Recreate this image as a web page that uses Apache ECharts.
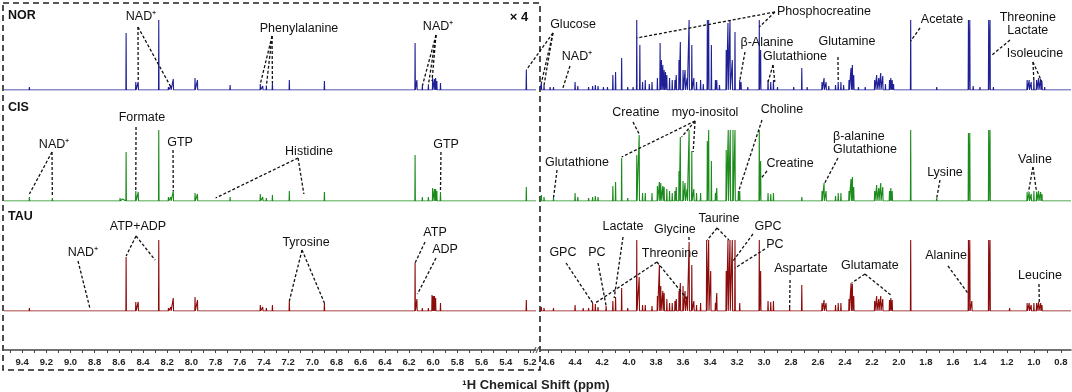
<!DOCTYPE html>
<html>
<head>
<meta charset="utf-8">
<title>1H NMR spectra NOR / CIS / TAU</title>
<script src="https://cdn.jsdelivr.net/npm/echarts@6.0.0/dist/echarts.min.js"></script>
<style>
  html, body { margin: 0; padding: 0; background: #fff; }
  #chart { width: 1072px; height: 392px; }
</style>
</head>
<body>
<div id="chart"></div>
<script>
const FONT = 'Liberation Sans, Arial, sans-serif';

// groups, top to bottom
const groups = ['NOR', 'CIS', 'TAU'];
const colors = ['#1f1f96', '#1b8b1b', '#8c0b0b'];

// tick labels of the two axis pieces (ppm)
const leftTicks = [9.4, 9.2, 9.0, 8.8, 8.6, 8.4, 8.2, 8.0, 7.8, 7.6, 7.4, 7.2, 7.0, 6.8, 6.6, 6.4, 6.2, 6.0, 5.8, 5.6, 5.4, 5.2];
const rightTicks = [4.6, 4.4, 4.2, 4.0, 3.8, 3.6, 3.4, 3.2, 3.0, 2.8, 2.6, 2.4, 2.2, 2.0, 1.8, 1.6, 1.4, 1.2, 1.0, 0.8];

// peaks as [ppm, height] (left part already shown x4)
const norPeaks = [
  [9.34, 3], [9.15, 2], [8.84, 1], [8.59, 1], [8.54, 57], [8.46, 8], [8.44, 8], [8.27, 70],
  [8.19, 3], [8.17, 4], [8.15, 11], [7.97, 12], [7.95, 10], [7.80, 2], [7.68, 5],
  [7.43, 6], [7.41, 4], [7.38, 4], [7.33, 7], [7.19, 10], [7.07, 2], [6.90, 9],
  [6.15, 47], [6.135, 10], [6.09, 4], [6.04, 5], [6.005, 12], [5.99, 11], [5.98, 12], [5.97, 9], [5.94, 7],
  [5.59, 1], [5.23, 20],
  [4.65, 7], [4.63, 5], [4.585, 3], [4.56, 3], [4.49, 2], [4.47, 2], [4.40, 8], [4.38, 4],
  [4.30, 3], [4.27, 4], [4.25, 5], [4.23, 4], [4.19, 3], [4.16, 3], [4.12, 15], [4.10, 18],
  [4.055, 32], [4.01, 3], [3.97, 3], [3.943, 70], [3.92, 45], [3.90, 8], [3.88, 10], [3.85, 6],
  [3.83, 8], [3.79, 12], [3.77, 47], [3.76, 30], [3.75, 25], [3.74, 20], [3.73, 18], [3.72, 15],
  [3.70, 12], [3.68, 10], [3.66, 10], [3.65, 15], [3.63, 30], [3.62, 48], [3.60, 20], [3.585, 20],
  [3.57, 12], [3.555, 70], [3.535, 45], [3.52, 12], [3.50, 8], [3.47, 10], [3.45, 6], [3.42, 70],
  [3.41, 70], [3.39, 45], [3.36, 10], [3.35, 10], [3.33, 5], [3.28, 40], [3.267, 67], [3.252, 70],
  [3.235, 30], [3.215, 58], [3.18, 10], [3.17, 8], [3.12, 3], [3.035, 70], [3.025, 40], [2.97, 10],
  [2.95, 8], [2.93, 10], [2.90, 3], [2.82, 2], [2.78, 3], [2.72, 22], [2.68, 3], [2.57, 8],
  [2.555, 12], [2.54, 8], [2.52, 4], [2.47, 5], [2.45, 8], [2.43, 8], [2.41, 5], [2.37, 10],
  [2.355, 22], [2.345, 25], [2.335, 15], [2.30, 3], [2.25, 3], [2.18, 10], [2.165, 15], [2.15, 12],
  [2.135, 17], [2.12, 14], [2.10, 6], [2.07, 10], [2.06, 12], [2.05, 10], [2.04, 6], [2.00, 2],
  [1.913, 70], [1.75, 2], [1.72, 3], [1.70, 2], [1.485, 70], [1.475, 70], [1.45, 4], [1.40, 3],
  [1.335, 70], [1.325, 70], [1.30, 3], [1.25, 2], [1.18, 2], [1.05, 10], [1.035, 10], [1.02, 8],
  [1.00, 10], [0.98, 10], [0.965, 12], [0.95, 11], [0.94, 8], [0.92, 3]
];
const cisPeaks = [
  [9.34, 4], [9.15, 3], [8.84, 1], [8.59, 3], [8.57, 2], [8.54, 49], [8.46, 10], [8.44, 9], [8.27, 71],
  [8.19, 4], [8.17, 4], [8.15, 10], [7.97, 8], [7.95, 7], [7.80, 2], [7.68, 4], [7.43, 7], [7.41, 4],
  [7.38, 3], [7.33, 6], [7.19, 10], [7.07, 2], [6.90, 9], [6.15, 46], [6.09, 4], [6.04, 4],
  [6.005, 13], [5.99, 12], [5.98, 12], [5.97, 10], [5.94, 9], [5.23, 14],
  [4.65, 6], [4.63, 4], [4.56, 3], [4.54, 2], [4.47, 2], [4.40, 8], [4.38, 4], [4.30, 3], [4.27, 4],
  [4.25, 5], [4.23, 4], [4.12, 15], [4.10, 19], [4.055, 43], [4.01, 3], [3.943, 46], [3.925, 66],
  [3.90, 8], [3.88, 8], [3.83, 8], [3.79, 15], [3.775, 19], [3.765, 18], [3.75, 15], [3.74, 14],
  [3.72, 12], [3.70, 10], [3.68, 8], [3.66, 10], [3.65, 14], [3.63, 30], [3.62, 64], [3.60, 20],
  [3.585, 18], [3.57, 12], [3.555, 71], [3.535, 50], [3.52, 12], [3.50, 8], [3.47, 8], [3.42, 60],
  [3.41, 71], [3.39, 40], [3.36, 8], [3.35, 13], [3.28, 51], [3.265, 71], [3.25, 71], [3.23, 71],
  [3.215, 71], [3.19, 9], [3.18, 10], [3.035, 71], [3.025, 40], [2.97, 8], [2.95, 7], [2.93, 8],
  [2.72, 4], [2.57, 10], [2.555, 18], [2.54, 10], [2.47, 5], [2.45, 8], [2.43, 8], [2.37, 10],
  [2.355, 22], [2.345, 24], [2.335, 14], [2.18, 10], [2.165, 16], [2.15, 13], [2.135, 18], [2.12, 14],
  [2.07, 10], [2.06, 13], [2.05, 10], [1.913, 71], [1.72, 3], [1.485, 68], [1.475, 68],
  [1.335, 71], [1.325, 71], [1.05, 9], [1.035, 9], [1.02, 7], [1.00, 10], [0.98, 9], [0.965, 10],
  [0.95, 9], [0.94, 7]
];
const tauPeaks = [
  [9.34, 3], [9.15, 2], [8.84, 2], [8.54, 54], [8.46, 9], [8.44, 9], [8.27, 71], [8.19, 3], [8.17, 4],
  [8.15, 13], [7.97, 14], [7.95, 11], [7.80, 2], [7.68, 2], [7.43, 6], [7.41, 4], [7.38, 3], [7.33, 6],
  [7.19, 10], [7.07, 2], [6.90, 8], [6.15, 48], [6.135, 12], [6.09, 3], [6.04, 3], [6.01, 16],
  [6.00, 15], [5.99, 15], [5.98, 13], [5.94, 8], [5.23, 11],
  [4.65, 4], [4.63, 3], [4.56, 3], [4.47, 2], [4.40, 6], [4.34, 3], [4.30, 3], [4.27, 8], [4.25, 7],
  [4.23, 4], [4.17, 5], [4.12, 10], [4.10, 14], [4.055, 23], [4.01, 3], [3.943, 71], [3.925, 34],
  [3.90, 6], [3.88, 6], [3.83, 5], [3.79, 15], [3.775, 46], [3.765, 25], [3.75, 20], [3.74, 18],
  [3.72, 12], [3.70, 8], [3.68, 8], [3.66, 10], [3.65, 12], [3.63, 20], [3.62, 28], [3.60, 25],
  [3.585, 20], [3.57, 15], [3.555, 69], [3.535, 46], [3.52, 10], [3.50, 6], [3.47, 8], [3.425, 71],
  [3.41, 71], [3.395, 40], [3.36, 8], [3.35, 18], [3.28, 40], [3.267, 71], [3.252, 71], [3.235, 71],
  [3.215, 71], [3.18, 8], [3.035, 71], [3.025, 40], [2.97, 10], [2.95, 9], [2.93, 10], [2.81, 3],
  [2.72, 26], [2.57, 8], [2.555, 11], [2.54, 8], [2.47, 6], [2.45, 8], [2.43, 8], [2.37, 12],
  [2.355, 28], [2.345, 27], [2.335, 15], [2.18, 10], [2.165, 15], [2.15, 12], [2.135, 15], [2.12, 12],
  [2.07, 11], [2.06, 13], [2.05, 11], [1.913, 71], [1.72, 1], [1.485, 71], [1.475, 71], [1.46, 10],
  [1.335, 71], [1.325, 71], [1.18, 3], [1.05, 8], [1.035, 8], [1.02, 6], [1.00, 8], [0.98, 8],
  [0.965, 9], [0.95, 8], [0.94, 6]
];
const spectra = [norPeaks, cisPeaks, tauPeaks];

// labels: row, label centre [ppm, height], leader start, leader ends
const annotations = [
  { text: 'NAD⁺', row: 0, at: [8.417, 73], from: [8.442, 63], to: [[8.44, 9], [8.17, 3]] },
  { text: 'Phenylalanine', row: 0, at: [7.11, 61], from: [7.333, 54], to: [[7.43, 6], [7.38, 4], [7.33, 7]] },
  { text: 'NAD⁺', row: 0, at: [5.96, 63], from: [5.977, 55], to: [[6.09, 4], [6.04, 5], [6.01, 9]] },
  { text: 'Glucose', row: 0, at: [4.415, 65], from: [4.564, 57], to: [[5.23, 20], [4.65, 7], [4.63, 5]] },
  { text: 'NAD⁺', row: 0, at: [4.386, 33], from: [4.438, 24], to: [[4.49, 2]] },
  { text: 'Phosphocreatine', row: 0, at: [2.556, 78], from: [2.919, 78], to: [[3.035, 63], [3.943, 52]] },
  { text: 'β-Alanine', row: 0, at: [2.978, 47], from: [3.141, 38], to: [[3.18, 9]] },
  { text: 'Glutathione', row: 0, at: [2.77, 33], from: [2.933, 25], to: [[2.97, 8], [2.92, 8]] },
  { text: 'Glutamine', row: 0, at: [2.385, 48], from: [2.452, 33], to: [[2.45, 8]] },
  { text: 'Acetate', row: 0, at: [1.681, 70], from: [1.844, 62], to: [[1.913, 49]] },
  { text: 'Threonine\nLactate', row: 0, at: [1.045, 66], from: [1.177, 50], to: [[1.31, 35]] },
  { text: 'Isoleucine', row: 0, at: [0.992, 36], from: [1.007, 28], to: [[1.0, 9], [0.94, 8]] },

  { text: 'Formate', row: 1, at: [8.409, 83], from: [8.458, 74], to: [[8.46, 10]] },
  { text: 'NAD⁺', row: 1, at: [9.136, 56], from: [9.153, 49], to: [[9.34, 7], [9.15, 4]] },
  { text: 'GTP', row: 1, at: [8.094, 58], from: [8.152, 51], to: [[8.15, 10]] },
  { text: 'Histidine', row: 1, at: [7.027, 49], from: [7.118, 43], to: [[7.80, 3], [7.07, 7]] },
  { text: 'GTP', row: 1, at: [5.894, 56], from: [5.936, 49], to: [[5.94, 9]] },
  { text: 'Glutathione', row: 1, at: [4.386, 38], from: [4.534, 31], to: [[4.56, 3]] },
  { text: 'Creatine', row: 1, at: [3.949, 88], from: [3.971, 79], to: [[3.925, 67]] },
  { text: 'myo-inositol', row: 1, at: [3.437, 88], from: [3.511, 80], to: [[4.055, 44], [3.61, 64], [3.525, 49]] },
  { text: 'Choline', row: 1, at: [2.867, 91], from: [3.015, 81], to: [[3.19, 9]] },
  { text: 'Creatine', row: 1, at: [2.807, 37], from: [2.978, 30], to: [[3.02, 23]] },
  { text: 'β-alanine\nGlutathione', row: 1, at: [2.489, 58], align: 'left', from: [2.452, 43], to: [[2.55, 18]] },
  { text: 'Lysine', row: 1, at: [1.659, 28], from: [1.696, 21], to: [[1.72, 3]] },
  { text: 'Valine', row: 1, at: [0.992, 41], from: [1.007, 34], to: [[1.04, 9], [0.98, 9]] },

  { text: 'ATP+ADP', row: 2, at: [8.442, 84], from: [8.458, 75], to: [[8.54, 55], [8.30, 51]] },
  { text: 'NAD⁺', row: 2, at: [8.897, 58], from: [8.938, 50], to: [[8.84, 3]] },
  { text: 'Tyrosine', row: 2, at: [7.052, 68], from: [7.085, 61], to: [[7.19, 10], [6.90, 8]] },
  { text: 'ATP', row: 2, at: [5.985, 78], from: [6.068, 69], to: [[6.15, 48]] },
  { text: 'ADP', row: 2, at: [5.902, 61], from: [5.977, 53], to: [[6.13, 17]] },
  { text: 'GPC', row: 2, at: [4.49, 58], from: [4.467, 48], to: [[4.27, 8]] },
  { text: 'PC', row: 2, at: [4.238, 58], from: [4.23, 48], to: [[4.17, 5]] },
  { text: 'Lactate', row: 2, at: [4.045, 84], from: [4.045, 74], to: [[4.11, 13]] },
  { text: 'Glycine', row: 2, at: [3.66, 81], from: [3.556, 74], to: [[3.555, 69]] },
  { text: 'Threonine', row: 2, at: [3.697, 57], from: [3.793, 49], to: [[4.25, 8], [3.57, 12]] },
  { text: 'Taurine', row: 2, at: [3.334, 92], from: [3.348, 83], to: [[3.42, 71], [3.26, 71]] },
  { text: 'GPC', row: 2, at: [2.97, 84], from: [3.082, 77], to: [[3.235, 49]] },
  { text: 'PC', row: 2, at: [2.919, 66], from: [2.993, 62], to: [[3.215, 43]] },
  { text: 'Aspartate', row: 2, at: [2.726, 42], from: [2.807, 31], to: [[2.81, 3]] },
  { text: 'Glutamate', row: 2, at: [2.215, 45], from: [2.252, 37], to: [[2.35, 28], [2.06, 16]] },
  { text: 'Alanine', row: 2, at: [1.651, 55], from: [1.637, 45], to: [[1.49, 18]] },
  { text: 'Leucine', row: 2, at: [0.955, 35], from: [0.962, 27], to: [[0.96, 8]] }
];

// group names and the magnification mark, [ppm, height] in their row
const rowLabels = [
  { text: 'NOR', row: 0, at: [9.517, 74] },
  { text: 'CIS', row: 1, at: [9.517, 93] },
  { text: 'TAU', row: 2, at: [9.517, 94] }
];
const scaleMark = { text: '× 4', row: 0, at: [5.29, 73] };

// layout
const baselines = [90, 201, 311];
const spanH = 71;
const sides = [
  { left: 4, width: 532, min: 5.15, max: 9.55, ticks: leftTicks },
  { left: 540, width: 531, min: 0.725, max: 4.66, ticks: rightTicks }
];
const minorTicks = (lo, hi) => {
  const out = [];
  for (let v = Math.round(hi * 10); v >= Math.round(lo * 10); v--) out.push(v / 10);
  return out;
};

// each peak drawn as a narrow stick on a flat baseline
function buildTrace(peaks, lo, hi) {
  const hw = 0.0022;
  const pts = [[hi, 0]];
  peaks.filter(p => p[0] > lo && p[0] < hi)
    .sort((a, b) => b[0] - a[0])
    .forEach(([x, h]) => { pts.push([x + hw, 0], [x, h], [x - hw, 0]); });
  pts.push([lo, 0]);
  return pts;
}

const chart = echarts.init(document.getElementById('chart'));
const grids = [], xAxes = [], yAxes = [], series = [];
groups.forEach((name, r) => {
  sides.forEach((s) => {
    const i = grids.length;
    const isBottom = r === groups.length - 1;
    grids.push({ left: s.left, width: s.width, top: baselines[r] - spanH, height: spanH });
    xAxes.push({
      gridIndex: i, type: 'value', inverse: true, min: s.min, max: s.max,
      show: isBottom, offset: 39,
      axisLine: { show: true, onZero: false, lineStyle: { color: '#444', width: 1.5 } },
      axisTick: { show: true, customValues: minorTicks(s.min + 0.05, s.max - 0.05), length: 3,
        lineStyle: { color: '#444', width: 1 } },
      axisLabel: { customValues: s.ticks, formatter: v => v.toFixed(1), fontSize: 9.5,
        fontWeight: 'bold', color: '#222', margin: 7, fontFamily: FONT },
      splitLine: { show: false }
    });
    yAxes.push({ gridIndex: i, type: 'value', min: 0, max: spanH, show: false });
    series.push({
      name: name, type: 'line', xAxisIndex: i, yAxisIndex: i,
      data: buildTrace(spectra[r], s.min, s.max),
      symbol: 'none', silent: true, clip: true,
      lineStyle: { color: colors[r], width: 1.1 }
    });
  });
});

chart.setOption({
  animation: false,
  backgroundColor: '#fff',
  title: {
    text: '¹H Chemical Shift (ppm)', left: 'center', top: 374,
    textStyle: { fontSize: 13, fontWeight: 'bold', color: '#222', fontFamily: FONT }
  },
  grid: grids, xAxis: xAxes, yAxis: yAxes, series: series
});

// annotations placed through the axes
const toPx = (row, p) => chart.convertToPixel({ gridIndex: row * 2 + (p[0] > 4.9 ? 0 : 1) }, p);
const graphics = [];
const dash = { stroke: '#111', lineWidth: 1.3, lineDash: [3, 2] };

annotations.forEach(a => {
  const c = toPx(a.row, a.at);
  const f = toPx(a.row, a.from);
  graphics.push({
    type: 'text', x: c[0], y: c[1], z: 10,
    style: { text: a.text, fill: '#111', fontSize: 12.5, fontFamily: FONT, lineHeight: 13,
      align: a.align || 'center', verticalAlign: 'middle' }
  });
  a.to.forEach(t => {
    const e = toPx(a.row, t);
    graphics.push({ type: 'line', z: 9, shape: { x1: f[0], y1: f[1], x2: e[0], y2: e[1] }, style: dash });
  });
});
rowLabels.forEach(l => {
  const c = toPx(l.row, l.at);
  graphics.push({ type: 'text', x: c[0], y: c[1], style: { text: l.text, fill: '#111',
    fontSize: 12.5, fontWeight: 'bold', fontFamily: FONT, align: 'left', verticalAlign: 'middle' } });
});
{
  const c = toPx(scaleMark.row, scaleMark.at);
  graphics.push({ type: 'text', x: c[0], y: c[1], style: { text: scaleMark.text, fill: '#111',
    fontSize: 13, fontWeight: 'bold', fontFamily: FONT, align: 'center', verticalAlign: 'middle' } });
}

// dashed frame round the x4 part, and the axis break mark
const boxL = sides[0].left - 1, boxR = sides[1].left;
const axisY = baselines[2] + 39;
graphics.push({ type: 'rect', shape: { x: boxL, y: 3, width: boxR - boxL, height: 367 },
  style: { fill: 'none', stroke: '#222', lineWidth: 1.6, lineDash: [6, 4] } });
graphics.push({ type: 'line', shape: { x1: boxR - 7, y1: axisY + 3, x2: boxR - 4, y2: axisY - 3 },
  style: { stroke: '#444', lineWidth: 1 } });
graphics.push({ type: 'line', shape: { x1: boxR - 4, y1: axisY + 3, x2: boxR - 1, y2: axisY - 3 },
  style: { stroke: '#444', lineWidth: 1 } });

chart.setOption({ graphic: graphics });
</script>
</body>
</html>
